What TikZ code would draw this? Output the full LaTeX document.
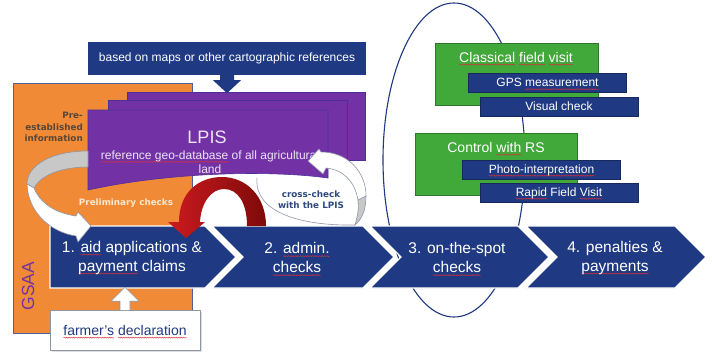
\documentclass[tikz,border=0pt]{standalone}
\usepackage{fontspec}
\setmainfont{Liberation Sans}
\newfontfamily\vfont{DejaVu Sans}
\usetikzlibrary{calc,decorations.pathmorphing}

\newcommand\fsz[2]{\fontsize{#1}{#2}\selectfont}
% spell-check style red wavy underline, drawn as a small overlay path
\newsavebox\sqbox
\newlength\sqlen
\newcommand\sq[1]{\sbox\sqbox{#1}\setlength\sqlen{\wd\sqbox}%
  \tikz[overlay,baseline=0pt]\draw[spellred, line width=0.45pt, decorate,
    decoration={snake, amplitude=0.55pt, segment length=2.4pt}]
    (0pt,-2.6pt) -- (\sqlen,-2.6pt);%
  \usebox\sqbox}

\definecolor{navy}{HTML}{1F3A82}
\definecolor{gsaa}{HTML}{F08A36}
\definecolor{lpis}{HTML}{7232A6}
\definecolor{lpisedge}{HTML}{4E2F9A}
\definecolor{fieldgreen}{HTML}{41A83A}
\definecolor{ringgray}{HTML}{C8C8C8}
\definecolor{ringedge}{HTML}{8E95A6}
\definecolor{redA}{HTML}{CC1A1E}
\definecolor{redB}{HTML}{7E0A0A}
\definecolor{spellred}{HTML}{D8303A}
\definecolor{prelabel}{HTML}{5A4636}
\definecolor{cream}{HTML}{FCE8CC}
\definecolor{crossblue}{HTML}{2E4A7E}
\definecolor{lav}{HTML}{EDE4F7}

\tikzset{
  chev/.style={fill=navy, draw=white, line width=1.3pt, line join=miter},
  chevtext/.style={text=white, font=\fsz{15.5}{19}, align=center, inner sep=0pt},
  topbox/.style={fill=navy, text=white, font=\fsz{12}{14}, minimum width=278pt,
    minimum height=33pt, inner sep=0pt},
  greenbox/.style={fill=fieldgreen, draw=fieldgreen!70!black, line width=0.5pt},
  greentitle/.style={text=white, font=\fsz{14}{16}, inner sep=0pt},
  subbox/.style={fill=navy, draw=navy!70!black, line width=0.4pt, text=white,
    font=\fsz{12}{14}, minimum width=158pt, minimum height=19pt, inner sep=0pt},
  lpislayer/.style={fill=lpis, draw=lpisedge, line width=0.6pt},
  ribbon/.style={draw=ringedge, line width=0.6pt},
  smalllabel/.style={font=\vfont\bfseries\fsz{8.8}{11.5}, inner sep=0pt},
}

\begin{document}
\begin{tikzpicture}[x=1pt,y=-1pt]
\useasboundingbox (0,0) rectangle (712,361);
\fill[white] (0,0) rectangle (712,361);

% on-the-spot ellipse (behind everything)
\draw[navy, line width=1.1pt] (454,160) ellipse [x radius=71, y radius=157];

% GSAA panel
\filldraw[fill=gsaa, draw=navy!80, line width=0.8pt] (13,83) rectangle (192,333);
\node[text=lpis, font=\fsz{17.5}{20}, rotate=90, inner sep=0pt] (gsaa) at (28,286) {GSAA};

% LPIS stack of layers
\filldraw[lpislayer] (127,92) rectangle (365,160);
\filldraw[lpislayer] (108,100) rectangle (347,167);
\filldraw[lpislayer] (88,110) -- (328,110) -- (328,178)
  .. controls (270,170) and (170,172) .. (88,190) -- cycle;
\node[text=lav, font=\fsz{18}{20}, inner sep=0pt] (lpis) at (207,137) {LPIS};
\node[text=lav, font=\fsz{12}{14}, align=center, inner sep=0pt] (lpisdesc) at (210,162)
  {\sq{reference geo-database} of all agricultural\\land};

% cartographic source box and its arrow
\node[topbox] (maps) at (227,58.5) {based on maps or other cartographic references};
\fill[navy] ($(maps.south)+(-7,0)$) -- ++(14,0) -- ++(0,5) -- ++(7,0) -- ++(-14,13)
  -- ++(-14,-13) -- ++(7,0) -- cycle;

% GSAA side labels
\node[smalllabel, text=prelabel, align=right, anchor=east] (preinfo) at (83,127)
  {Pre-\\established\\information};
\node[smalllabel, text=cream] (prelim) at (126,203) {Preliminary checks};

% process chevrons
\path[chev] (50,226) -- (205,226) -- (236,257) -- (205,288) -- (50,288) -- cycle;
\path[chev] (212,226) -- (363,226) -- (394,257) -- (363,288) -- (212,288) -- (243,257) -- cycle;
\path[chev] (370,226) -- (518,226) -- (549,257) -- (518,288) -- (370,288) -- (401,257) -- cycle;
\path[chev] (526,226) -- (675,226) -- (706,257) -- (675,288) -- (526,288) -- (557,257) -- cycle;
\node[chevtext] (step1) at (132,257.5) {1. \sq{aid} applications \&\\\sq{payment} claims};
\node[chevtext] (step2) at (297,257.5) {2. \sq{admin.}\\\sq{checks}};
\node[chevtext] (step3) at (457,257.5) {3. on-the-spot\\\sq{checks}};
\node[chevtext] (step4) at (615,257.5) {4. penalties \&\\\sq{payments}};

% curved arrow: pre-established information -> step 1
\filldraw[ribbon, fill=ringgray] (88,151) .. controls (52,151) and (27,165) .. (27,184)
  -- (34,188) .. controls (40,176) and (60,167) .. (88,167) -- cycle;
\filldraw[ribbon, fill=white] (27,184) .. controls (28,212) and (50,232) .. (76,236)
  -- (78,242) -- (91,226) -- (78,212) -- (76,216)
  .. controls (55,213) and (40,203) .. (34,188) -- cycle;

% red arch: LPIS -> step 1
\shade[left color=redA, right color=redB]
  (179,222) .. controls (179,192) and (199,177) .. (222,177)
  .. controls (246,177) and (266,196) .. (266,226) -- (247,226)
  .. controls (247,203) and (238,189) .. (224,189)
  .. controls (211,189) and (201,203) .. (200,222)
  -- (205,222) -- (186,238) -- (168,222) -- cycle;

% white arch: step 2 -> LPIS (cross-check)
\draw[ribbon] (257,178) .. controls (254,212) and (300,226) .. (355,225);
\filldraw[ribbon, fill=ringgray] (366,196) .. controls (366,210) and (362,219) .. (355,225)
  .. controls (358,215) and (359,207) .. (358,200) -- cycle;
\filldraw[ribbon, fill=white] (321,152) .. controls (348,152) and (366,172) .. (366,196)
  -- (358,200) .. controls (355,183) and (345,170) .. (326,168)
  -- (323,174) -- (308,161) -- (319,149) -- cycle;
\node[smalllabel, text=crossblue, align=center] (cross) at (311,199.5) {cross-check\\with the LPIS};

% on-the-spot check methods
\filldraw[greenbox] (435,43) rectangle (598,105);
\node[greentitle] (cfv) at (516,57) {\sq{Classical} \sq{field} \sq{visit}};
\node[subbox] (gps) at (547.5,82.5) {GPS \sq{measurement}};
\node[subbox] (visual) at (559,106.5) {Visual check};
\filldraw[greenbox] (415,133) rectangle (577,195);
\node[greentitle] (crs) at (496,147) {Control \sq{with} RS};
\node[subbox] (photo) at (541.5,170) {\sq{Photo-interpretation}};
\node[subbox] (rfv) at (559,193) {\sq{Rapid} Field \sq{Visit}};

% farmer's declaration and its arrow into step 1
\fill[gray!25] (52,312) rectangle (202,352);
\node[fill=white, draw=ringedge, line width=0.6pt, minimum width=150pt, minimum height=40pt,
  inner sep=0pt, text=navy, font=\fsz{14}{16}] (farmer) at (125,330)
  {\sq{farmer's} \sq{declaration}};
\filldraw[ribbon, fill=white] ($(farmer.north)+(-5,0.5)$) -- ++(0,-9) -- ++(-9,0)
  -- ++(14,-14) -- ++(14,14) -- ++(-9,0) -- ++(0,9);
\end{tikzpicture}
\end{document}
